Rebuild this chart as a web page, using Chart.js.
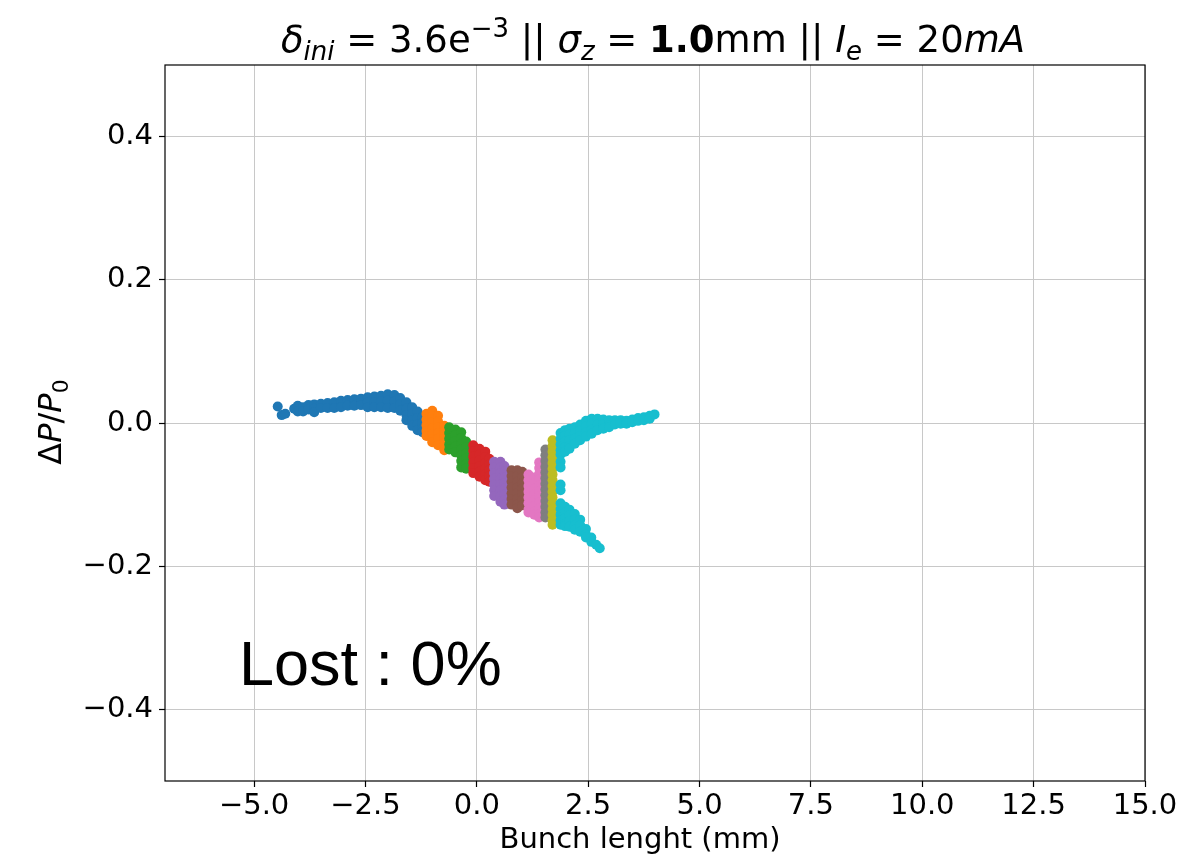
<!DOCTYPE html>
<html>
<head>
<meta charset="utf-8">
<script src="https://cdn.jsdelivr.net/npm/chart.js@4.4.1/dist/chart.umd.min.js"></script>
<style>
  html, body { margin: 0; padding: 0; background: #fff; }
  #wrap { width: 1184px; height: 863px; }
</style>
</head>
<body>
<div id="wrap"><canvas id="phase"></canvas></div>
<script>
// each cluster: columns of [x (mm), [dP/P0 values]]
var blue = [
    [-4.47, [0.023]], [-4.38, [0.011]], [-4.30, [0.013]], [-4.10, [0.020]],
    [-4.02, [0.024, 0.016]], [-3.90, [0.022, 0.016]], [-3.78, [0.025, 0.019]],
    [-3.65, [0.026, 0.020, 0.015]], [-3.50, [0.027, 0.021]], [-3.35, [0.028, 0.021]],
    [-3.20, [0.029, 0.021]], [-3.05, [0.031, 0.022]], [-2.90, [0.032, 0.024]],
    [-2.75, [0.033, 0.024]], [-2.60, [0.034, 0.025]], [-2.45, [0.036, 0.029, 0.022]],
    [-2.30, [0.037, 0.029, 0.022]], [-2.15, [0.038, 0.030, 0.022]],
    [-2.00, [0.040, 0.031, 0.021]], [-1.85, [0.039, 0.030, 0.021]],
    [-1.72, [0.035, 0.026, 0.017]], [-1.58, [0.029, 0.020, 0.011, 0.004]],
    [-1.45, [0.022, 0.013, 0.004, -0.004]], [-1.33, [0.016, 0.007, -0.002, -0.010]],
    [-1.22, [0.008, 0.000, -0.008, -0.013]]
];
var orange = [
    [-1.13, [0.013, 0.005, -0.003, -0.011, -0.018]],
    [-1.00, [0.017, 0.009, 0.001, -0.007, -0.015, -0.023, -0.027]],
    [-0.87, [0.010, 0.002, -0.006, -0.014, -0.022, -0.031]],
    [-0.73, [-0.004, -0.012, -0.020, -0.028, -0.038]]
];
var green = [
    [-0.62, [-0.006, -0.014, -0.022, -0.030, -0.037]],
    [-0.48, [-0.009, -0.017, -0.025, -0.033, -0.041]],
    [-0.35, [-0.013, -0.021, -0.029, -0.037, -0.045, -0.053, -0.062]],
    [-0.24, [-0.026, -0.034, -0.042, -0.050, -0.058, -0.064]]
];
var red = [
    [-0.08, [-0.031, -0.039, -0.047, -0.055, -0.063, -0.070]],
    [0.06, [-0.036, -0.044, -0.052, -0.060, -0.068, -0.075]],
    [0.19, [-0.040, -0.048, -0.056, -0.064, -0.072, -0.080]],
    [0.28, [-0.050, -0.058, -0.066, -0.074, -0.082]]
];
var purple = [
    [0.39, [-0.054, -0.062, -0.070, -0.078, -0.086, -0.094, -0.102]],
    [0.53, [-0.054, -0.062, -0.070, -0.078, -0.086, -0.094, -0.102, -0.110]],
    [0.62, [-0.060, -0.068, -0.076, -0.084, -0.092, -0.100, -0.108, -0.114]]
];
var brown = [
    [0.78, [-0.066, -0.074, -0.082, -0.090, -0.098, -0.106, -0.114]],
    [0.91, [-0.066, -0.074, -0.082, -0.090, -0.098, -0.106, -0.114, -0.119]],
    [1.02, [-0.068, -0.076, -0.084, -0.092, -0.100, -0.108, -0.115]]
];
var pink = [
    [1.16, [-0.072, -0.080, -0.088, -0.096, -0.104, -0.112, -0.121, -0.125]],
    [1.29, [-0.076, -0.084, -0.092, -0.100, -0.108, -0.116, -0.124, -0.128]],
    [1.40, [-0.055, -0.063, -0.071, -0.079, -0.087, -0.095, -0.103, -0.111, -0.119, -0.127, -0.132]]
];
var gray = [
    [1.54, [-0.037, -0.045, -0.053, -0.061, -0.069, -0.077, -0.085, -0.093, -0.101, -0.109, -0.117, -0.125, -0.132]]
];
var olive = [
    [1.70, [-0.024, -0.032, -0.040, -0.048, -0.056, -0.064, -0.072, -0.080, -0.088, -0.096, -0.104, -0.112, -0.120, -0.128, -0.136, -0.142]]
];
var cyan = [
    [1.88, [-0.014, -0.022, -0.030, -0.038, -0.044, -0.054, -0.062, -0.086, -0.094]],
    [1.98, [-0.010, -0.018, -0.026, -0.034, -0.040]],
    [2.08, [-0.008, -0.016, -0.024, -0.032, -0.036]],
    [2.20, [-0.006, -0.014, -0.022, -0.029]],
    [2.32, [-0.002, -0.010, -0.018, -0.024]],
    [2.45, [0.003, -0.005, -0.013, -0.019]],
    [2.58, [0.006, -0.001, -0.009, -0.015]],
    [2.71, [0.006, -0.002, -0.010]],
    [2.84, [0.005, -0.002, -0.008]],
    [2.97, [0.004, -0.003, -0.006]],
    [3.10, [0.004, -0.002]],
    [3.23, [0.004, -0.001]],
    [3.36, [0.003, -0.001]],
    [3.49, [0.005, 0.001]],
    [3.62, [0.007, 0.003]],
    [3.75, [0.008, 0.004]],
    [3.88, [0.010, 0.006]],
    [3.99, [0.012]],
    [1.88, [-0.112, -0.120, -0.128, -0.136, -0.142]],
    [1.98, [-0.117, -0.125, -0.133, -0.141, -0.144]],
    [2.08, [-0.121, -0.129, -0.137, -0.145]],
    [2.20, [-0.127, -0.135, -0.143, -0.149]],
    [2.32, [-0.135, -0.143, -0.152]],
    [2.45, [-0.148, -0.156, -0.160]],
    [2.57, [-0.160, -0.166]],
    [2.68, [-0.170]],
    [2.76, [-0.175]]
];

var slices = [blue, orange, green, red, purple, brown, pink, gray, olive, cyan];
var sliceColors = ['#1f77b4', '#ff7f0e', '#2ca02c', '#d62728', '#9467bd',
                   '#8c564b', '#e377c2', '#7f7f7f', '#bcbd22', '#17becf'];

var xTicks = [-5, -2.5, 0, 2.5, 5, 7.5, 10, 12.5, 15];
var yTicks = [-0.4, -0.2, 0, 0.2, 0.4];

var FONT = '"DejaVu Sans"';

// text made of pieces: [text, style, size factor, vertical shift]
var titleRuns = [
    ['\u03b4', 'i', 1, 0], ['ini', 'i', 0.7, 8], [' = 3.6e', 'n', 1, 0],
    ['\u22123', 'n', 0.7, -15], [' || ', 'n', 1, 0], ['\u03c3', 'i', 1, 0], ['z', 'i', 0.7, 8],
    [' = ', 'n', 1, 0], ['1.0', 'b', 1, 0], ['mm || ', 'n', 1, 0], ['I', 'i', 1, 0],
    ['e', 'i', 0.7, 8], [' = 20', 'n', 1, 0], ['mA', 'i', 1, 0]
];
var yLabelRuns = [
    ['\u0394', 'n', 1, 0], ['P', 'i', 1, 0], ['/', 'n', 1, 0], ['P', 'i', 1, 0], ['0', 'n', 0.7, 7]
];

function runFont(r, size) {
    var s = Math.round(size * r[2]);
    if (r[1] === 'i') return 'italic ' + s + 'px ' + FONT;
    if (r[1] === 'b') return 'bold ' + s + 'px ' + FONT;
    return s + 'px ' + FONT;
}
function runsWidth(ctx, runs, size) {
    var w = 0;
    runs.forEach(function(r) { ctx.font = runFont(r, size); w += ctx.measureText(r[0]).width; });
    return w;
}
function drawRuns(ctx, runs, size, x, y) {
    runs.forEach(function(r) {
        ctx.font = runFont(r, size);
        ctx.fillText(r[0], x, y + r[3]);
        x += ctx.measureText(r[0]).width;
    });
}

var decorations = {
    id: 'decorations',
    afterDraw: function(chart) {
        var ctx = chart.ctx, a = chart.chartArea;
        ctx.save();
        // frame
        ctx.strokeStyle = '#000';
        ctx.lineWidth = 1.2;
        ctx.strokeRect(a.left, a.top, a.right - a.left, a.bottom - a.top);
        ctx.fillStyle = '#000';
        ctx.textBaseline = 'alphabetic';
        ctx.textAlign = 'left';
        // title
        var tSize = 37;
        var tw = runsWidth(ctx, titleRuns, tSize);
        drawRuns(ctx, titleRuns, tSize, 653 - tw / 2, 52);
        // x label
        ctx.font = '29px ' + FONT;
        ctx.textAlign = 'center';
        ctx.fillText('Bunch lenght (mm)', 640, 848);
        ctx.textAlign = 'left';
        // y label
        var ySize = 32;
        var yw = runsWidth(ctx, yLabelRuns, ySize);
        ctx.translate(61, 422);
        ctx.rotate(-Math.PI / 2);
        drawRuns(ctx, yLabelRuns, ySize, -yw / 2, 0);
        ctx.setTransform(1, 0, 0, 1, 0, 0);
        // annotation
        ctx.font = '63px "Liberation Sans"';
        ctx.fillText('Lost : 0%', 239, 685);
        ctx.restore();
    }
};

function fmt(v) {
    return v.toFixed(1).replace('-', '\u2212');
}

new Chart(document.getElementById('phase'), {
    type: 'scatter',
    data: {
        datasets: slices.map(function(cols, i) {
            var pts = [];
            cols.forEach(function(c) {
                c[1].forEach(function(y) { pts.push({x: c[0], y: y}); });
            });
            return {
                data: pts,
                backgroundColor: sliceColors[i],
                borderWidth: 0,
                pointRadius: 5,
                pointHoverRadius: 5,
                order: -i
            };
        })
    },
    options: {
        responsive: true,
        maintainAspectRatio: false,
        animation: false,
        events: [],
        layout: {padding: {top: 65, right: 39, left: 0, bottom: 0}},
        plugins: {legend: {display: false}, tooltip: {enabled: false}},
        scales: {
            x: {
                type: 'linear',
                min: -7,
                max: 15,
                afterBuildTicks: function(s) { s.ticks = xTicks.map(function(v) { return {value: v}; }); },
                afterFit: function(s) { s.height = 82; },
                grid: {color: '#c8c8c8', lineWidth: 1, tickColor: '#000', tickLength: 6, tickWidth: 1.2},
                border: {display: false},
                ticks: {
                    color: '#000',
                    padding: 2,
                    maxRotation: 0,
                    autoSkip: false,
                    font: {family: 'DejaVu Sans', size: 29},
                    callback: function(v) { return fmt(v); }
                }
            },
            y: {
                type: 'linear',
                min: -0.5,
                max: 0.5,
                afterBuildTicks: function(s) { s.ticks = yTicks.map(function(v) { return {value: v}; }); },
                afterFit: function(s) { s.width = 165; },
                grid: {color: '#c8c8c8', lineWidth: 1, tickColor: '#000', tickLength: 6, tickWidth: 1.2},
                border: {display: false},
                ticks: {
                    color: '#000',
                    padding: 6,
                    autoSkip: false,
                    font: {family: 'DejaVu Sans', size: 29},
                    callback: function(v) { return fmt(v); }
                }
            }
        }
    },
    plugins: [decorations]
});
</script>
</body>
</html>
